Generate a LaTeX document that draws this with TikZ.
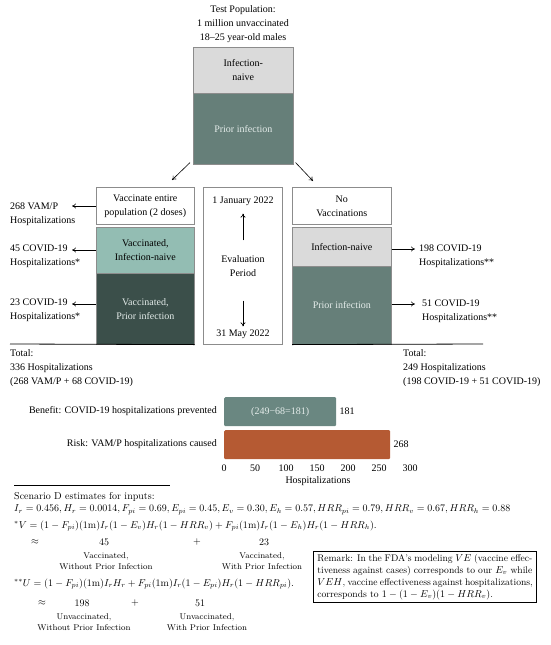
\documentclass[tikz,border=0pt]{standalone}
\usepackage{fontspec}
\usepackage{amsmath}
\newfontfamily\tms[Ligatures=TeX]{Liberation Serif}
\usetikzlibrary{arrows.meta}
\definecolor{naive}{HTML}{DADADA}
\definecolor{prior}{HTML}{667F79}
\definecolor{vnaive}{HTML}{93BDB3}
\definecolor{vprior}{HTML}{3B4F4A}
\definecolor{benefit}{HTML}{6A8781}
\definecolor{risk}{HTML}{B55A33}
\definecolor{edge}{HTML}{8C8C8C}
\definecolor{lighttxt}{HTML}{E4ECEA}
\begin{document}
\begin{tikzpicture}[x=1pt,y=-1pt,
  txt/.style={font=\tms\fontsize{10}{14}\selectfont, inner sep=0pt, align=center},
  ltxt/.style={txt, align=left, anchor=west},
  box/.style={draw=edge, line width=0.6pt, anchor=north west, inner sep=0pt, align=center, font=\tms\fontsize{10}{14}\selectfont},
  arr/.style={-{To[length=4pt,width=5pt]}, line width=0.6pt},
  bar/.style={anchor=north west, inner sep=0pt, rounded corners=1.2pt, minimum height=29pt},
  fm/.style={font=\fontsize{10}{12}\selectfont, inner sep=0pt, anchor=west},
  fmc/.style={font=\fontsize{10}{12}\selectfont, inner sep=0pt},
  small/.style={font=\fontsize{8.4}{10.5}\selectfont, inner sep=0pt, align=center},
]
\useasboundingbox (0,0) rectangle (550,645);

% ---- top population
\node[txt] (title) at (243,24) {Test Population:\\1 million unvaccinated\\18–25 year-old males};
\node[box, fill=naive, minimum width=100pt, minimum height=46pt] (tnaive) at (193,47) {Infection-\\naive};
\node[box, fill=prior, text=lighttxt, minimum width=100pt, minimum height=71pt] (tprior) at (193,93) {Prior infection};

\coordinate (la) at (172,180);
\coordinate (ra) at (313,181);
\draw[arr] ([xshift=-3pt,yshift=2pt]tprior.south west) -- (la);
\draw[arr] ([xshift=2pt,yshift=2pt]tprior.south east) -- (ra);

% ---- left column
\node[box, minimum width=98pt, minimum height=37pt] (vacc) at (96,187) {Vaccinate entire\\population (2 doses)};
\node[box, fill=vnaive, minimum width=98pt, minimum height=46pt] (vnaive) at (96,227) {Vaccinated,\\Infection-naive};
\node[box, fill=vprior, text=lighttxt, minimum width=98pt, minimum height=71pt] (vprior) at (96,273) {Vaccinated,\\Prior infection};

\node[ltxt] (l1) at (10,214) {268 VAM/P\\Hospitalizations};
\node[ltxt] (l2) at (10,256) {45 COVID-19\\Hospitalizations*};
\node[ltxt] (l3) at (10,310) {23 COVID-19\\Hospitalizations*};
\coordinate (a1) at (72,206);
\coordinate (a2) at (72,250);
\coordinate (a3) at (72,304);
\draw[arr] (vacc.west |- a1) -- (a1);
\draw[arr] (vnaive.west |- a2) -- (a2);
\draw[arr] (vprior.west |- a3) -- (a3);

\coordinate (tl) at (10,344);
\draw[line width=0.8pt] (tl) -- (vprior.south east);
\node[ltxt] (lt) at (10,368) {Total:\\336 Hospitalizations\\(268 VAM/P + 68 COVID-19)};

% ---- evaluation period
\node[box, minimum width=79pt, minimum height=157pt] (eval) at (203,187) {};
\node[txt] (jan) at (243,201) {1 January 2022};
\node[txt] (evp) at (243,266) {Evaluation\\Period};
\node[txt] (may) at (243,334) {31 May 2022};
\draw[arr, shorten <=15pt, shorten >=8pt] (evp.north) -- (jan.south);
\draw[arr, shorten <=24pt, shorten >=3pt] (evp.south) -- (may.north);

% ---- right column
\node[box, minimum width=99pt, minimum height=37pt] (novac) at (292,187) {No\\Vaccinations};
\node[box, fill=naive, minimum width=99pt, minimum height=39pt] (rnaive) at (292,227) {Infection-naive};
\node[box, fill=prior, text=lighttxt, minimum width=99pt, minimum height=78pt] (rprior) at (292,266) {Prior infection};

\coordinate (b1) at (415,249);
\coordinate (b2) at (415,304);
\draw[arr] (rnaive.east |- b1) -- (b1);
\draw[arr] (rprior.east |- b2) -- (b2);
\node[ltxt] (r1) at (419,256) {198 COVID-19\\Hospitalizations**};
\node[ltxt] (r2) at (422,311) {51 COVID-19\\Hospitalizations**};

\coordinate (tr) at (483,344);
\draw[line width=0.8pt] (rprior.south west) -- (tr);
\node[ltxt] (rt) at (403,368) {Total:\\249 Hospitalizations\\(198 COVID-19 + 51 COVID-19)};

% ---- bar chart
\node[bar, fill=benefit, minimum width=112pt, text=lighttxt, font=\tms\fontsize{10}{12}\selectfont] (bben) at (224,397) {(249−68=181)};
\node[bar, fill=risk, minimum width=166pt] (brisk) at (224,430) {};
\node[txt, anchor=east] (lben) at (217,411) {Benefit: COVID-19 hospitalizations prevented};
\node[txt, anchor=east] (lrisk) at (217,444) {Risk: VAM/P hospitalizations caused};
\node[txt, anchor=west] (vben) at ([xshift=3pt]bben.east) {181};
\node[txt, anchor=west] (vrisk) at ([xshift=3pt]brisk.east) {268};
\foreach \v in {0,50,...,300} \node[txt] (t\v) at (224+0.62*\v,468) {\v};
\node[txt] (xl) at (318,481) {Hospitalizations};

% ---- formulas
\coordinate (s0) at (14,485);
\coordinate (s1) at (170,485);
\draw[line width=0.6pt] (s0) -- (s1);
\node[fm] (f1) at (14,497) {Scenario D estimates for inputs:};
\node[fm] (f2) at (14,510) {$I_r = 0.456, H_r = 0.0014, F_{pi} = 0.69, E_{pi} = 0.45, E_v = 0.30, E_h = 0.57, HRR_{pi} = 0.79, HRR_v = 0.67, HRR_h = 0.88$};
\node[fm] (f3) at (14,526) {${}^{*}V = (1-F_{pi})(1\mathrm{m})I_r(1-E_v)H_r(1-HRR_v)+F_{pi}(1\mathrm{m})I_r(1-E_h)H_r(1-HRR_h).$};
\node[fmc] (v0) at (35,542) {$\approx$};
\node[fmc] (v1) at (104,542) {45};
\node[fmc] (v2) at (197,542) {$+$};
\node[fmc] (v3) at (264,542) {23};
\node[small] (v1l) at (106,561) {Vaccinated,\\Without Prior Infection};
\node[small] (v3l) at (262,561) {Vaccinated,\\With Prior Infection};
\node[fm] (f4) at (14,584) {${}^{**}U = (1-F_{pi})(1\mathrm{m})I_rH_r+F_{pi}(1\mathrm{m})I_r(1-E_{pi})H_r(1-HRR_{pi}).$};
\node[fmc] (u0) at (42,603) {$\approx$};
\node[fmc] (u1) at (82,603) {198};
\node[fmc] (u2) at (135,603) {$+$};
\node[fmc] (u3) at (200,603) {51};
\node[small] (u1l) at (84,622) {Unvaccinated,\\Without Prior Infection};
\node[small] (u3l) at (207,622) {Unvaccinated,\\With Prior Infection};

% ---- remark
\node[draw, line width=0.8pt, anchor=north west, inner xsep=4pt, inner ysep=2.5pt, align=left, font=\fontsize{9.6}{12}\selectfont] (rem) at (313,551) {%
\makebox[215pt][s]{Remark: In the FDA's modeling $VE$ (vaccine effec-}\\
\makebox[215pt][s]{tiveness against cases) corresponds to our $E_v$ while}\\
\makebox[215pt][s]{$VEH$, vaccine effectiveness against hospitalizations,}\\
corresponds to $1-(1-E_v)(1-HRR_v)$.};
\end{tikzpicture}
\end{document}
